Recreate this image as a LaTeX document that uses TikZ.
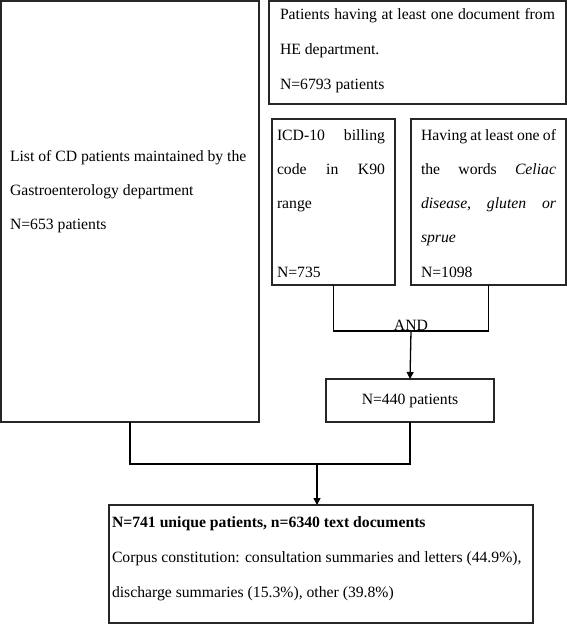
\documentclass[tikz,border=0pt]{standalone}
\usepackage{fontspec}
\setmainfont{Liberation Serif}
\usetikzlibrary{arrows.meta}
\begin{document}
\begin{tikzpicture}[x=1pt,y=-1pt,
  boxst/.style={draw=black!85, line width=1.3pt, inner sep=0pt, outer sep=0pt, rectangle},
  txt/.style={anchor=base west, inner sep=0pt, outer sep=0pt, font=\fontsize{15.7}{18}\selectfont},
  conn/.style={draw=black, line width=1.3pt},
  arr/.style={-{Triangle[width=7pt,length=7pt]}}
]
\useasboundingbox (0,0) rectangle (567,624);
% boxes
\node[boxst, minimum width=258pt, minimum height=421pt] (cd) at (130,211.5) {};
\node[boxst, minimum width=297pt, minimum height=103pt] (he) at (417.5,52.5) {};
\node[boxst, minimum width=123pt, minimum height=166pt] (icd) at (333.5,202) {};
\node[boxst, minimum width=155pt, minimum height=166pt] (words) at (488.5,202) {};
\node[boxst, minimum width=168pt, minimum height=43pt, font=\fontsize{15.7}{18}\selectfont] (n440) at (410,400.5) {N=440 patients};
\node[boxst, minimum width=424pt, minimum height=118pt] (final) at (321,564) {};
% texts
\node[txt] (he1) at (280,19.5) {\hbox to 275pt{Patients having at least one document from}};
\node[txt] (he2) at (280,54.5) {HE department.};
\node[txt] (he3) at (280,89) {N=6793 patients};
\node[txt] (cd1) at (10,161) {List of CD patients maintained by the};
\node[txt] (cd2) at (10,195.5) {Gastroenterology department};
\node[txt] (cd3) at (10,229.5) {N=653 patients};
\node[txt] (icd1) at (277,140) {\hbox to 108pt{ICD-10\hfill billing}};
\node[txt] (icd2) at (277,174) {\hbox to 108pt{code\hfill in\hfill K90}};
\node[txt] (icd3) at (277,208) {range};
\node[txt] (icd4) at (277,277) {N=735};
\node[txt] (w1) at (421,140) {\hbox to 135pt{Having at least one of}};
\node[txt] (w2) at (421,174) {\hbox to 135pt{the\hfill words\hfill \textit{Celiac}}};
\node[txt] (w3) at (421,208) {\hbox to 135pt{\textit{disease,}\hfill\textit{gluten}\hfill\textit{or}}};
\node[txt] (w4) at (421,242) {\textit{sprue}};
\node[txt] (w5) at (421,277) {N=1098};
\node[txt] (f1) at (112,527) {\textbf{N=741 unique patients, n=6340 text documents}};
\node[txt] (f2) at (112,562) {Corpus constitution: consultation summaries and letters (44.9\%),};
\node[txt] (f3) at (112,597) {discharge summaries (15.3\%), other (39.8\%)};
\node[txt, anchor=base] (andlbl) at (411,330) {AND};
% connectors
\coordinate (andpt) at (411,331);
\coordinate (join) at (317,464);
\draw[conn] (icd.south) |- (andpt) -| (words.south);
\draw[conn, arr] (andpt) -- (n440.north);
\draw[conn] (cd.south) |- (join) -| (n440.south);
\draw[conn, arr] (join) -- (join |- final.north);
\end{tikzpicture}
\end{document}
